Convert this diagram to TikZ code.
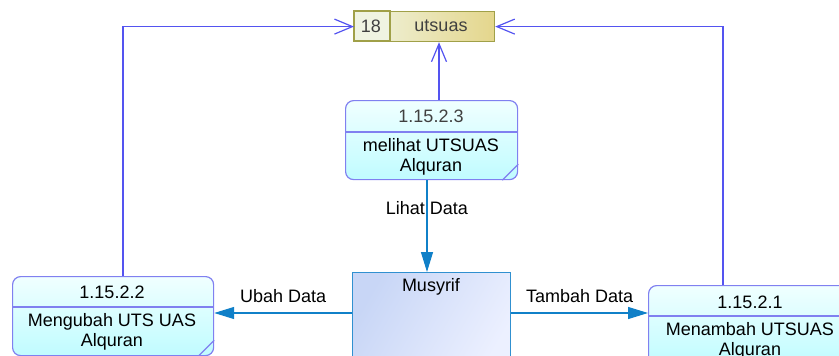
\documentclass[tikz,border=0pt]{standalone}
\usepackage{fontspec}
\setmainfont{Liberation Sans}
\usetikzlibrary{arrows.meta,positioning}
\definecolor{procline}{RGB}{128,128,240}
\definecolor{proctop}{RGB}{240,255,255}
\definecolor{procbot}{RGB}{192,252,255}
\definecolor{flowcol}{RGB}{16,128,200}
\definecolor{storecol}{RGB}{84,84,240}
\definecolor{storeline}{RGB}{160,160,72}
\definecolor{storelight}{RGB}{240,244,226}
\definecolor{storedark}{RGB}{228,214,140}
\definecolor{entline}{RGB}{48,144,208}
\definecolor{enttop}{RGB}{200,214,246}
\definecolor{entbot}{RGB}{236,240,255}
\definecolor{idtext}{RGB}{64,64,64}
\begin{document}
\begin{tikzpicture}
    [x=1pt,y=-1pt,
    font=\fontsize{18}{20}\selectfont,
    proc/.style={draw=procline,line width=1.2pt,rounded corners=8pt,
        top color=proctop,bottom color=procbot,minimum height=79pt,
        inner sep=0pt,anchor=north west},
    ent/.style={draw=entline,line width=1.2pt,left color=enttop,
        right color=entbot,shading angle=60,inner sep=0pt,anchor=north west},
    store/.style={draw=storeline,line width=1.2pt,left color=storelight,
        right color=storedark,inner sep=0pt,anchor=north west},
    storeflow/.style={draw=storecol,line width=1.2pt,
        -{Straight Barb[length=18pt,width=15pt,line width=1.2pt]}},
    flow/.style={draw=flowcol,line width=1.2pt,
        -{Triangle[length=20pt,width=12pt]}}]
    \useasboundingbox (0,0) rectangle (839,356);
    \clip (0,0) rectangle (839,356);
    %data store
    \node[store,minimum width=140pt,minimum height=30pt] (ds) at (354,11) {};
    \draw[draw=storeline,fill=storelight,line width=1.2pt] (ds.north west) rectangle (390,41);
    \node[text=idtext] (dsid) at (371,26) {18};
    \node[text=idtext] (dsname) at (441,26) {utsuas};
    %processes
    \node[proc,minimum width=172pt] (p3) at (345,100) {};
    \draw[procline,line width=1.2pt] (345,132) -- (517,132);
    \draw[procline,line width=1.2pt] ([xshift=-16pt]p3.south east) -- ([yshift=16pt]p3.south east);
    \node[text=idtext] (p3id) at (431,116) {1.15.2.3};
    \node[align=center] (p3txt) at (431,157) {melihat UTSUAS\\Alquran};
    \node[proc,minimum width=201pt] (p2) at (12,276) {};
    \draw[procline,line width=1.2pt] (12,307) -- (213,307);
    \draw[procline,line width=1.2pt] ([xshift=-16pt]p2.south east) -- ([yshift=16pt]p2.south east);
    \node (p2id) at (112,292) {1.15.2.2};
    \node[align=center] (p2txt) at (112,332) {Mengubah UTS UAS\\Alquran};
    \node[proc,minimum width=201pt] (p1) at (648,285) {};
    \draw[procline,line width=1.2pt] (648,316) -- (849,316);
    \node (p1id) at (750,302) {1.15.2.1};
    \node[align=center] (p1txt) at (750,341) {Menambah UTSUAS\\Alquran};
    %entity
    \node[ent,minimum width=158pt,minimum height=100pt] (mus) at (352,272) {};
    \node (musname) at (431,287) {Musyrif};
    %store flows
    \coordinate (lx) at (123,0);
    \coordinate (rx) at (723,0);
    \coordinate (mx) at (439,0);
    \draw[storeflow] (p2.north -| lx) |- (ds.west);
    \draw[storeflow] (p1.north -| rx) |- (ds.east);
    \draw[storeflow] (p3.north -| mx) -- (ds.south -| mx);
    %data flows
    \coordinate (fx) at (427,0);
    \coordinate (fy) at (0,313);
    \draw[flow] (p3.south -| fx) -- (mus.north -| fx)
        node[pos=0.3] {Lihat Data};
    \draw[flow] (mus.west |- fy) -- (p2.east |- fy)
        node[midway,yshift=17pt] {Ubah Data};
    \draw[flow] (mus.east |- fy) -- (p1.west |- fy)
        node[midway,yshift=17pt] {Tambah Data};
\end{tikzpicture}
\end{document}
